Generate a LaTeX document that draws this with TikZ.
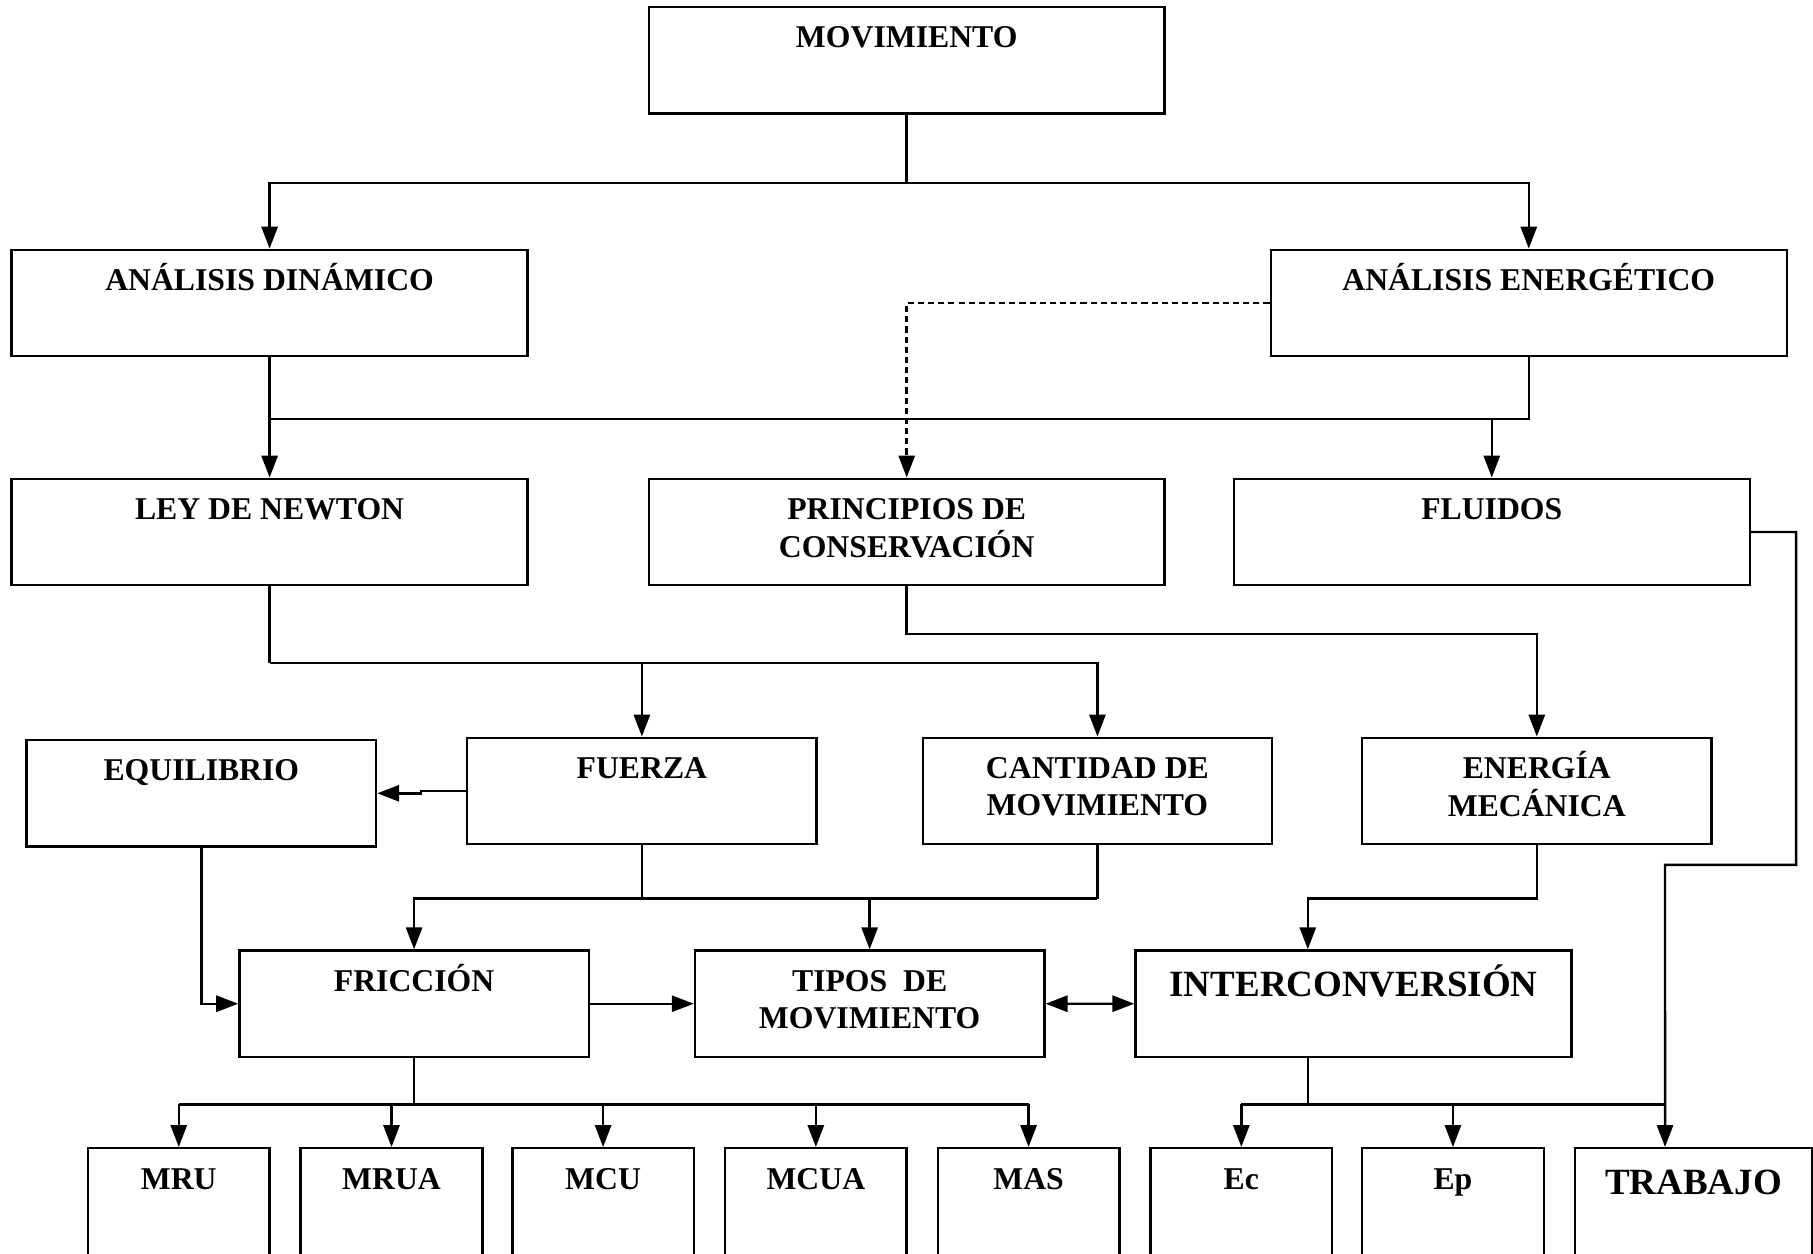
\documentclass[tikz,border=0pt]{standalone}
\usepackage{fontspec}
\setmainfont{Liberation Serif}
\usetikzlibrary{arrows.meta}

\begin{document}
\begin{tikzpicture}[x=0.01cm, y=-0.01cm,
    % cajas con el texto arriba
    caja/.style={draw, line width=0.6pt, anchor=north west, inner sep=0pt,
        minimum width=#1, text height=0.35cm, text depth=0.57cm,
        font=\bfseries\fontsize{7.8}{9.1}\selectfont},
    caja/.default=4.46cm,
    grande/.style={caja=#1, text height=0.40cm, text depth=0.52cm,
        font=\bfseries\fontsize{9.1}{10.5}\selectfont},
    baja/.style={caja=#1, text height=0.36cm, text depth=0.9cm},
    baja/.default=1.57cm,
    % conectores
    linea/.style={line width=0.6pt},
    flecha/.style={linea, -{Triangle[length=0.19cm, width=0.14cm]}},
    doble/.style={linea, {Triangle[length=0.19cm, width=0.14cm]}-{Triangle[length=0.19cm, width=0.14cm]}}
]
    \useasboundingbox (0,0) rectangle (1568,1084);

    % Primera fila
    \node[caja] (mov) at (560,5) {MOVIMIENTO};
    \node[caja] (dinam) at (9,215) {ANÁLISIS DINÁMICO};
    \node[caja] (energ) at (1098,215) {ANÁLISIS ENERGÉTICO};

    % Segunda fila
    \node[caja] (newton) at (9,413) {LEY DE NEWTON};
    \node[caja] (princ) at (560,413) {\begin{tabular}[t]{@{}c@{}}PRINCIPIOS DE\\CONSERVACIÓN\end{tabular}};
    \node[caja] (fluidos) at (1066,413) {FLUIDOS};

    % Tercera fila
    \node[caja=3.02cm] (equil) at (22,639) {EQUILIBRIO};
    \node[caja=3.02cm] (fuerza) at (403,637) {FUERZA};
    \node[caja=3.02cm] (cant) at (797,637) {\begin{tabular}[t]{@{}c@{}}CANTIDAD DE\\MOVIMIENTO\end{tabular}};
    \node[caja=3.02cm] (energia) at (1177,637) {\begin{tabular}[t]{@{}c@{}}ENERGÍA\\MECÁNICA\end{tabular}};

    % Cuarta fila
    \node[caja=3.02cm] (fric) at (206,821) {FRICCIÓN};
    \node[caja=3.02cm] (tipos) at (600,821) {\begin{tabular}[t]{@{}c@{}}TIPOS~ DE\\MOVIMIENTO\end{tabular}};
    \node[grande=3.77cm] (inter) at (981,821) {INTERCONVERSIÓN};

    % Fila inferior
    \foreach \nom/\x/\txt in {mru/75/MRU, mrua/259/MRUA, mcu/442/MCU, mcua/626/MCUA,
                              mas/810/MAS, ec/994/Ec, ep/1177/Ep}
        \node[baja] (\nom) at (\x,992) {\txt};
    \node[baja=2.05cm, text height=0.40cm, font=\bfseries\fontsize{9.1}{10.5}\selectfont] (trab) at (1361,992) {TRABAJO};

    % Puntos de entrada y salida fuera del centro
    \coordinate (interin) at ([xshift=1.5cm]inter.north west);
    \coordinate (interout) at ([xshift=1.5cm]inter.south west);
    \coordinate (trabin) at ([xshift=0.79cm]trab.north west);

    % Movimiento -> analisis
    \draw[linea] (mov.south) -- ++(0,59) coordinate (j1);
    \draw[flecha] (j1) -| (dinam.north);
    \draw[flecha] (j1) -| (energ.north);
    \draw[flecha, dash pattern=on 1.5pt off 1pt] (energ.west) -| (princ.north);

    % Analisis -> segunda fila
    \draw[flecha] (dinam.south) -- (newton.north);
    \draw[linea] (energ.south) -- ++(0,53) coordinate (j2) -- (j2 -| dinam.south);
    \draw[flecha] (j2 -| fluidos.north) -- (fluidos.north);
    \draw[flecha] (fluidos.east) -- ++(39,0) |- (1440,748) -- (trabin);

    % Segunda fila -> tercera
    \draw[linea] (newton.south) -- ++(0,66) coordinate (j3);
    \draw[flecha] (j3) -| (cant.north);
    \draw[flecha] (j3 -| fuerza.north) -- (fuerza.north);
    \draw[flecha] (princ.south) -- ++(0,41) -| (energia.north);
    \draw[flecha] (fuerza.west) -- ++(-39,0) |- (equil.east);

    % Tercera fila -> cuarta
    \draw[linea] (cant.south) -- ++(0,46) coordinate (j4);
    \draw[flecha] (j4) -| (fric.north);
    \draw[linea] (fuerza.south) -- (fuerza.south |- j4);
    \draw[flecha] (j4 -| tipos.north) -- (tipos.north);
    \draw[flecha] (energia.south) -- ++(0,46) -| (interin);
    \draw[flecha] (equil.south) |- (fric.west);
    \draw[flecha] (fric.east) -- (tipos.west);
    \draw[doble] (tipos.east) -- (inter.west);

    % Cuarta fila -> fila inferior
    \draw[linea] (fric.south) -- ++(0,40) coordinate (j5);
    \draw[linea] (j5 -| mru.north) -- (j5 -| mas.north);
    \foreach \nom in {mru, mrua, mcu, mcua, mas}
        \draw[flecha] (j5 -| \nom.north) -- (\nom.north);
    \draw[linea] (interout) -- ++(0,40) coordinate (j6);
    \draw[linea] (j6 -| ec.north) -- (j6 -| trabin);
    \draw[flecha] (j6 -| ec.north) -- (ec.north);
    \draw[flecha] (j6 -| ep.north) -- (ep.north);
\end{tikzpicture}
\end{document}
